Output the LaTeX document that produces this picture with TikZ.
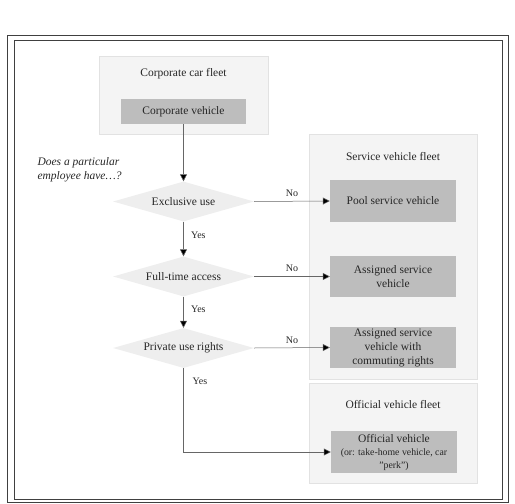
\documentclass[tikz,border=0pt]{standalone}
\usepackage{fontspec}
\setmainfont{Liberation Serif}
\usetikzlibrary{shapes.geometric,arrows.meta}
\definecolor{fleetfill}{HTML}{F4F4F4}
\definecolor{fleetline}{HTML}{E2E2E2}
\definecolor{boxfill}{HTML}{BDBDBD}
\definecolor{dfill}{HTML}{EEEEEE}
\definecolor{lcol}{HTML}{666666}
\tikzset{
  fleet/.style={draw=fleetline, fill=fleetfill, line width=0.6pt},
  vbox/.style={draw=none, fill=boxfill, minimum width=126pt, inner sep=1pt, align=center, font=\fontsize{11.5}{14}\selectfont, text=black!85},
  dec/.style={diamond, aspect=3.5, fill=dfill, draw=none, minimum width=141pt, minimum height=40pt, inner sep=0pt, font=\fontsize{11.5}{14}\selectfont, text=black!85},
  conn/.style={draw=lcol, line width=0.5pt, -{Triangle[length=7pt,width=7pt,fill=black]}},
  lab/.style={font=\fontsize{10}{12}\selectfont, text=black!85},
  ttl/.style={font=\fontsize{11.5}{14}\selectfont, text=black!85}
}
\begin{document}
\begin{tikzpicture}[x=1pt,y=-1pt]
\useasboundingbox (0,0) rectangle (515,504);
% frame
\draw[line width=0.9pt, black!75] (7,35) rectangle (508,502);
\draw[line width=0.9pt, black!75] (14,40) rectangle (502,499);
% fleets
\draw[fleet] (99,56) rectangle (268,134);
\node[ttl] (t1) at (183.5,74) {Corporate car fleet};
\draw[fleet] (309,134) rectangle (477,379);
\node[ttl] (t2) at (393,157) {Service vehicle fleet};
\draw[fleet] (309,383) rectangle (477,483);
\node[ttl] (t3) at (393,405) {Official vehicle fleet};
% boxes
\node[vbox, minimum width=125pt, minimum height=25pt] (cv) at (183.5,111.5) {Corporate vehicle};
\node[vbox, minimum height=42pt] (pool) at (393,201) {Pool service vehicle};
\node[vbox, minimum height=41pt] (asv) at (393,276.5) {Assigned service\\vehicle};
\node[vbox, minimum height=41pt] (asc) at (393,347.5) {Assigned service\\vehicle with\\commuting rights};
\node[vbox, minimum height=42pt, align=center] (ov) at (394,452) {Official vehicle\\[-1pt]{\fontsize{9.8}{12}\selectfont (or: take-home vehicle, car}\\[-1pt]{\fontsize{9.8}{12}\selectfont "perk")}};
% question
\node[font=\itshape\fontsize{11.5}{14}\selectfont, align=left, anchor=west, text=black!85] (q) at (34,170) {Does a particular\\employee have…?};
% diamonds
\node[dec] (d1) at (183.5,201.5) {Exclusive use};
\node[dec] (d2) at (183.5,276.5) {Full-time access};
\node[dec] (d3) at (183.5,348) {Private use rights};
% connectors
\draw[conn] (cv.south) -- (d1.north);
\draw[conn] (d1.south) -- node[lab, right=4pt, pos=0.4] {Yes} (d2.north);
\draw[conn] (d2.south) -- node[lab, right=4pt, pos=0.4] {Yes} (d3.north);
\draw[conn] (d1.east) -- node[lab, above=1pt] {No} (pool.west);
\draw[conn] (d2.east) -- node[lab, above=1pt] {No} (asv.west);
\draw[conn] (d3.east) -- node[lab, above=1pt] {No} (asc.west);
\coordinate (c1) at (d3.south |- ov.west);
\draw[conn] (d3.south) -- (c1) -- (ov.west);
\node[lab] (y3) at (200,381) {Yes};
\end{tikzpicture}
\end{document}
